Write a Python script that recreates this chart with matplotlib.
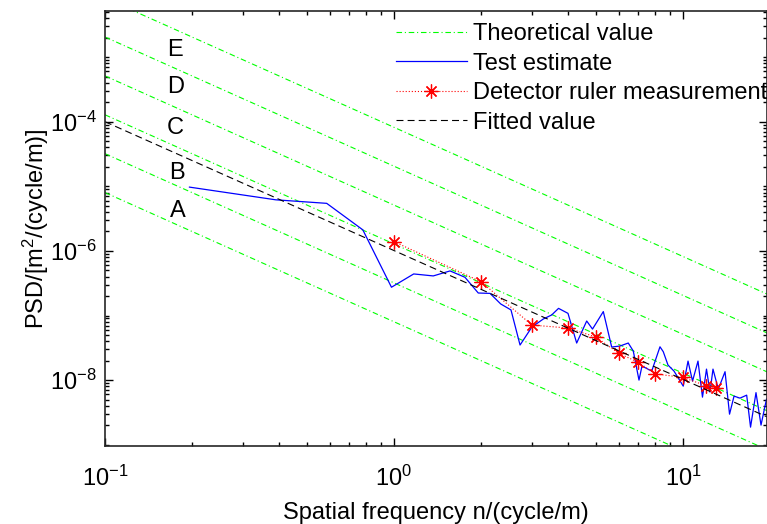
import matplotlib
matplotlib.use("Agg")
import matplotlib.pyplot as plt
from matplotlib.ticker import FixedLocator, LogLocator, NullFormatter, LogFormatterSciNotation

plt.rcParams['font.family'] = ['Liberation Sans', 'DejaVu Sans']
plt.rcParams['mathtext.fontset'] = 'custom'
plt.rcParams['mathtext.rm'] = 'Liberation Sans'
plt.rcParams['mathtext.it'] = 'Liberation Sans'
plt.rcParams['mathtext.default'] = 'regular'
plt.rcParams['lines.scale_dashes'] = False

# road class reference lines (slope -2), PSD at n = 0.1 and at the right end
theo_x = [0.1, 19.53]
theo_left = [8e-6, 32e-6, 128e-6, 512e-6, 2048e-6, 8192e-6]
theo_right = [2.10e-10, 8.39e-10, 3.36e-9, 1.342e-8, 5.37e-8, 2.148e-7]
class_names = ['A', 'B', 'C', 'D', 'E']

# test estimate (blue)
test_n = [0.196, 0.39, 0.585, 0.78, 0.98, 1.17, 1.367, 1.563, 1.76, 1.957,
          2.15, 2.34, 2.54, 2.73, 3.0, 3.286, 3.513, 3.71, 4.0, 4.287,
          4.643, 4.863, 5.30, 5.666, 6.053, 6.466, 6.73, 7.043, 7.213, 7.795,
          8.325, 8.547, 8.874, 9.309, 10.02, 10.41, 10.79, 11.27, 11.68, 12.06,
          12.40, 12.70, 13.25, 13.98, 14.49, 15.02, 15.75, 16.61, 17.13, 17.89,
          18.62, 19.45]
test_psd = [9.72e-6, 6.18e-6, 5.45e-6, 2.12e-6, 2.74e-7, 4.40e-7, 4.10e-7, 4.90e-7, 3.91e-7, 2.23e-7,
            2.20e-7, 1.51e-7, 1.22e-7, 3.49e-8, 6.63e-8, 8.83e-8, 1.02e-7, 1.29e-7, 1.08e-7, 3.75e-8,
            8.22e-8, 6.17e-8, 1.15e-7, 3.25e-8, 3.37e-8, 3.75e-8, 2.82e-8, 1.00e-8, 1.65e-8, 1.38e-8,
            3.28e-8, 2.75e-8, 1.71e-8, 1.38e-8, 8.07e-9, 1.97e-8, 9.65e-9, 1.97e-8, 5.45e-9, 1.48e-8,
            6.52e-9, 1.48e-8, 7.25e-9, 1.35e-8, 2.97e-9, 5.65e-9, 5.26e-9, 5.85e-9, 1.87e-9, 6.40e-9,
            2.01e-9, 5.07e-9]

# detector ruler measurement (red)
ruler_n = [1, 2, 3, 4, 5, 6, 7, 8, 10, 12, 13]
ruler_psd = [1.39e-6, 3.34e-7, 7.12e-8, 6.40e-8, 4.64e-8, 2.59e-8, 1.89e-8, 1.25e-8, 1.10e-8, 8.21e-9, 7.43e-9]

# fitted line
fit_n = [0.1, 19.53]
fit_psd = [1.0e-4, 2.7e-9]

fig = plt.figure(figsize=(7.67, 5.24), dpi=100)
ax = fig.add_axes([105 / 767, 78 / 524, 662 / 767, 435 / 524])

for i, g0 in enumerate(theo_left):
    ax.plot(theo_x, [g0, theo_right[i]], color='#00ff00', linewidth=0.8,
            dashes=(4, 2, 0.8, 2), label='Theoretical value' if i == 0 else None)

ax.plot(test_n, test_psd, color='#0000ff', linewidth=0.9, label='Test estimate')
ax.plot(ruler_n, ruler_psd, color='red', linewidth=0.8, dashes=(0.8, 1.4),
        marker=(8, 2, 0), markersize=10, markeredgewidth=0.9,
        label='Detector ruler measurement')
ax.plot(fit_n, fit_psd, color='black', linewidth=0.8, dashes=(5, 3), label='Fitted value')

# class letters
label_x = [0.178, 0.178, 0.175, 0.176, 0.175]
label_y = [4.17e-6, 1.62e-5, 8.07e-5, 3.49e-4, 1.31e-3]
for name, lx, ly in zip(class_names, label_x, label_y):
    ax.text(lx, ly, name, fontsize=17, ha='center', va='center')

ax.set_xscale('log')
ax.set_yscale('log')
ax.set_xlim(0.1, 19.53)
ax.set_ylim(10 ** -9.02, 10 ** -2.286)

ax.yaxis.set_major_locator(FixedLocator([1e-8, 1e-6, 1e-4]))
ax.yaxis.set_major_formatter(LogFormatterSciNotation())
ax.yaxis.set_minor_locator(LogLocator(base=10, subs=range(1, 10), numticks=50))
ax.yaxis.set_minor_formatter(NullFormatter())
ax.xaxis.set_minor_locator(LogLocator(base=10, subs=range(2, 10), numticks=50))
ax.xaxis.set_minor_formatter(NullFormatter())

ax.tick_params(which='both', direction='in', top=True, right=True, labelsize=17, width=1)
ax.tick_params(which='major', length=6)
ax.tick_params(which='minor', length=3)
ax.tick_params(axis='x', which='major', pad=14)
ax.tick_params(axis='y', which='major', pad=6)
for s in ax.spines.values():
    s.set_linewidth(1.2)
    s.set_color('#262626')

ax.set_xlabel('Spatial frequency n/(cycle/m)', fontsize=17, labelpad=8)
ax.set_ylabel('PSD/[m$^2$/(cycle/m)]', fontsize=17, labelpad=-1)

ax.legend(loc='upper left', bbox_to_anchor=(396 / 767, 1 - 23 / 524),
          bbox_transform=fig.transFigure, frameon=False, fontsize=17,
          handlelength=3.0, handletextpad=0.25, labelspacing=0.32,
          borderpad=0, borderaxespad=0)

fig.savefig('out.png', dpi=100)
